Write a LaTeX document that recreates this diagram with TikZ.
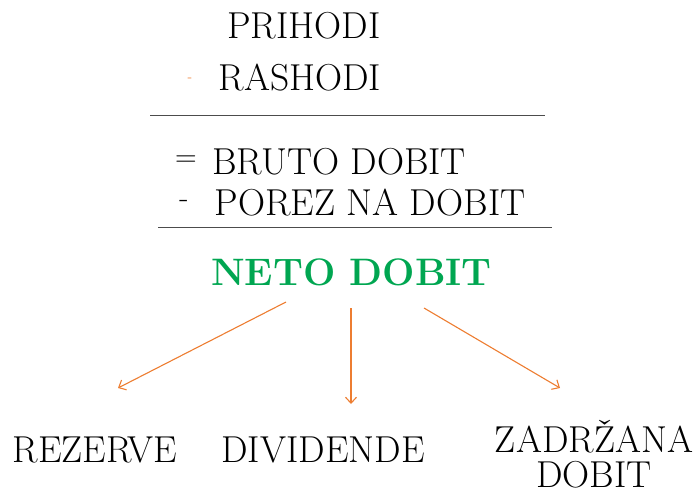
\documentclass[tikz,border=0pt]{standalone}
\usetikzlibrary{arrows.meta}
\definecolor{netogreen}{RGB}{0,166,81}
\definecolor{arroworange}{RGB}{237,125,49}
\begin{document}
\begin{tikzpicture}[x=1pt,y=-1pt,
  lbl/.style={inner sep=0pt,anchor=base,font=\fontsize{37.5}{35}\selectfont},
  sign/.style={inner sep=0pt,font=\fontsize{30}{36}\selectfont},
  rule/.style={draw=black!70,line width=1pt},
  arr/.style={draw=arroworange,line width=1.1pt,-{Straight Barb[length=6pt,width=11pt]}}]
\useasboundingbox (0,0) rectangle (696,493);
\node[lbl] (prihodi) at (304,38) {PRIHODI};
\node[lbl] (rashodi) at (300,90) {RASHODI};
\node[inner sep=0pt,font=\fontsize{14}{14}\selectfont,text=arroworange] (dash1) at (190,80) {-};
\draw[rule] (150,115) coordinate (l1a) -- (545,115) coordinate (l1b);
\node[sign] (eq) at (186,161) {=};
\node[lbl] (bruto) at (339,174) {BRUTO DOBIT};
\node[sign] (minus) at (184,204) {-};
\node[lbl] (porez) at (370,215) {POREZ NA DOBIT};
\draw[rule] (158,227) coordinate (l2a) -- (552,227) coordinate (l2b);
\node[inner sep=0pt,anchor=base,font=\fontsize{38.3}{40}\selectfont\bfseries,text=netogreen] (neto) at (351.5,285) {NETO DOBIT};
\coordinate (sL) at (286,302);
\coordinate (sM) at (351,308);
\coordinate (sR) at (424,308);
\node[lbl] (rez) at (95,462) {REZERVE};
\node[lbl] (div) at (323,462) {DIVIDENDE};
\node[lbl,align=center] (zad) at (594,487) {ZADR\v{Z}ANA\\DOBIT};
\coordinate (eL) at (118,388);
\coordinate (eM) at (351,404);
\coordinate (eR) at (560,388);
\draw[arr] (sL) -- (eL);
\draw[arr] (sM) -- (eM);
\draw[arr] (sR) -- (eR);
\end{tikzpicture}
\end{document}
